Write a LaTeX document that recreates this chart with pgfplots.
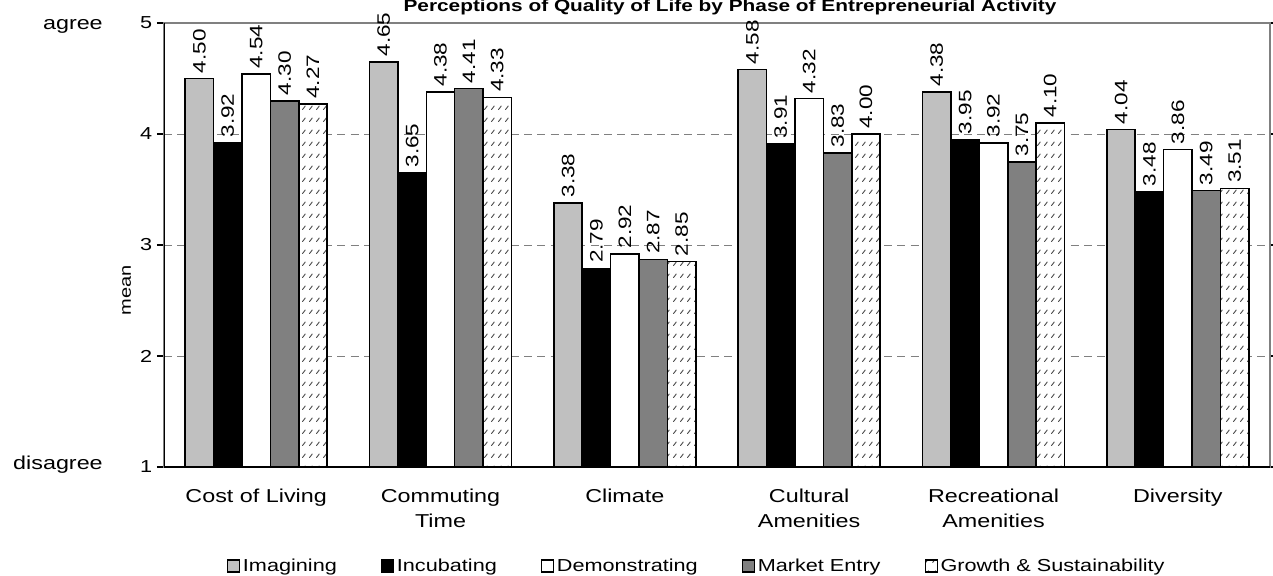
\documentclass[border=0pt]{standalone}
\usepackage{fontspec}
\setmainfont{Liberation Sans}[FakeStretch=1.25]
\usepackage{pgfplots}
\usepackage{pgfplotstable}
\pgfplotsset{compat=1.18}
\usetikzlibrary{patterns}

\definecolor{lightbar}{RGB}{192,192,192}
\definecolor{midbar}{RGB}{128,128,128}
\definecolor{framegray}{RGB}{128,128,128}

% short diagonal dashes, like the Excel fill
\pgfdeclarepatternformonly{dashdiag}{\pgfqpoint{0pt}{0pt}}{\pgfqpoint{5.25pt}{8.75pt}}{\pgfqpoint{5.25pt}{8.75pt}}{%
  \pgfsetlinewidth{0.7pt}%
  \pgfpathmoveto{\pgfqpoint{1.2pt}{1pt}}%
  \pgfpathlineto{\pgfqpoint{3.8pt}{4pt}}%
  \pgfusepath{stroke}}

\pgfplotstableread{
x y
0 4.50
1 4.65
2 3.38
3 4.58
4 4.38
5 4.04
}\imagining
\pgfplotstableread{
x y
0 3.92
1 3.65
2 2.79
3 3.91
4 3.95
5 3.48
}\incubating
\pgfplotstableread{
x y
0 4.54
1 4.38
2 2.92
3 4.32
4 3.92
5 3.86
}\demonstrating
\pgfplotstableread{
x y
0 4.30
1 4.41
2 2.87
3 3.83
4 3.75
5 3.49
}\marketentry
\pgfplotstableread{
x y
0 4.27
1 4.33
2 2.85
3 4.00
4 4.10
5 3.51
}\growth

\pgfplotsset{
  barbox/.style={draw=black, line width=1.2pt,
    legend image code/.code={\draw[##1, line width=1pt] (0pt,-4.5pt) rectangle (9pt,4.5pt);}},
}

\begin{document}
\begin{tikzpicture}
\useasboundingbox (0,0) rectangle (954.75pt,431.25pt);
\begin{axis}[
  at={(123pt,81pt)}, anchor=south west,
  scale only axis, width=829.5pt, height=333pt,
  ybar=0pt, bar width=0.154,
  xmin=-0.5, xmax=5.5, ymin=1, ymax=5,
  ytick={1,2,3,4,5},
  xtick={0,...,5},
  xticklabels={Cost of Living, {Commuting\\Time}, Climate, {Cultural\\Amenities}, {Recreational\\Amenities}, Diversity},
  xtick style={draw=none},
  extra x ticks={-0.5,0.5,1.5,2.5,3.5,4.5,5.5},
  extra x tick labels={},
  extra x tick style={tick style={draw=black, line width=0.8pt}, major tick length=4.5pt, tick align=outside},
  ytick style={draw=black, line width=0.8pt},
  major tick length=5.25pt, tick align=outside,
  ymajorgrids, grid style={dashed, framegray, line width=0.6pt, dash pattern=on 6pt off 4pt},
  axis line style={framegray, line width=0.8pt},
  /pgf/number format/assume math mode=true,
  yticklabel style={font=\fontsize{13}{15}\selectfont},
  xticklabel style={font=\fontsize{14}{18.75}\selectfont, align=center, anchor=north, yshift=-8pt},
  nodes near coords={\pgfmathprintnumber[fixed,fixed zerofill,precision=2]{\pgfplotspointmeta}},
  nodes near coords style={font=\fontsize{13.5}{15}\selectfont, rotate=90, anchor=west, inner xsep=3.5pt, inner ysep=0pt, black},
  legend columns=5,
  legend style={at={(0.482,-0.223)}, anchor=center, draw=none, fill=none,
    font=\fontsize{13}{15}\selectfont,
    /tikz/every even column/.append style={column sep=31pt}},
]
\addplot[barbox, fill=lightbar] table {\imagining};
\addplot[barbox, fill=black] table {\incubating};
\addplot[barbox, fill=white] table {\demonstrating};
\addplot[barbox, fill=midbar] table {\marketentry};
\addplot[barbox, fill=white, postaction={pattern=dashdiag, pattern color=black!75}] table {\growth};
\legend{Imagining, Incubating, Demonstrating, Market Entry, Growth \& Sustainability}
\draw[black, line width=0.8pt] (rel axis cs:0,1) -- (rel axis cs:0,0) -- (rel axis cs:1,0);
\end{axis}
\node[anchor=base, font=\bfseries\fontsize{12.5}{15}\selectfont, inner sep=0pt] at (547.5pt,422.25pt)
  {Perceptions of Quality of Life by Phase of Entrepreneurial Activity};
\node[anchor=base east, font=\fontsize{14}{17}\selectfont, inner sep=0pt] at (77.25pt,408.75pt) {agree};
\node[anchor=base east, font=\fontsize{14}{17}\selectfont, inner sep=0pt] at (77.25pt,79.5pt) {disagree};
\node[rotate=90, font=\fontsize{12}{14}\selectfont, inner sep=0pt] at (95pt,213.75pt) {mean};
\end{tikzpicture}
\end{document}
